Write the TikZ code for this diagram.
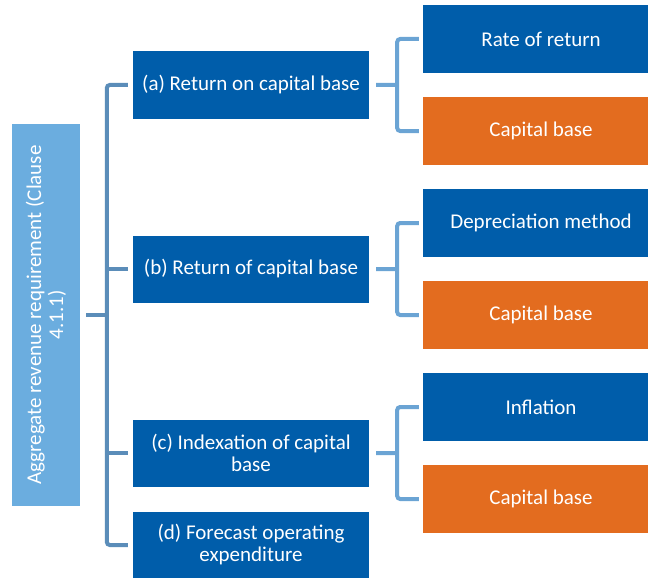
\documentclass[tikz,border=0pt]{standalone}
\usepackage{fontspec}
\setmainfont{Carlito}
\usetikzlibrary{positioning,calc}
\definecolor{arrblue}{HTML}{005DAA}
\definecolor{arrorange}{HTML}{E36C1F}
\definecolor{arrsky}{HTML}{6BADDF}
\definecolor{spinecol}{HTML}{5B8DB9}
\definecolor{twigcol}{HTML}{6BA4D4}

\begin{document}
\begin{tikzpicture}[x=1pt,y=-1pt,on grid,node distance=92pt,
  box/.style={fill=arrblue,text=white,font=\fontsize{21}{22}\selectfont,align=center,inner sep=0pt},
  leaf/.style={box,minimum width=236pt,minimum height=68pt},
  leafo/.style={leaf,fill=arrorange},
  mid/.style={box,minimum width=236pt,minimum height=67pt},
  spine/.style={draw=spinecol,line width=4pt,rounded corners=3pt},
  twig/.style={draw=twigcol,line width=4pt,rounded corners=3pt}]
 \useasboundingbox (0,0) rectangle (648,578);
 \node[leaf] (rr) at (541,39) {Rate of return};
 \node[leafo] (cb1) [below=of rr] {Capital base};
 \node[leaf] (dm) [below=of cb1] {Depreciation method};
 \node[leafo] (cb2) [below=of dm] {Capital base};
 \node[leaf] (infl) [below=of cb2] {Inflation};
 \node[leafo] (cb3) [below=of infl] {Capital base};
 \coordinate (ma) at ($(rr)!.5!(cb1)$);
 \coordinate (mb) at ($(dm)!.5!(cb2)$);
 \coordinate (mc) at ($(infl)!.5!(cb3)$);
 \node[mid] (a) at ([xshift=-290pt]ma) {(a) Return on capital base};
 \node[mid] (b) at ([xshift=-290pt]mb) {(b) Return of capital base};
 \node[mid] (c) at ([xshift=-290pt]mc) {(c) Indexation of capital\\base};
 \node[mid] (d) [below=of c] {(d) Forecast operating\\expenditure};
 \node[box,fill=arrsky,rotate=90,minimum width=382pt,minimum height=68pt] (root) at (46,315)
  {Aggregate revenue requirement (Clause\\4.1.1)};
 \coordinate (spine) at ([xshift=-26pt]a.west);
 \draw[spine] ([xshift=-5pt]a.west) -| (d.west -| spine) -- ([xshift=-5pt]d.west);
 \draw[spine] ([xshift=-5pt]b.west) -- (b.west -| spine)
  ([xshift=-5pt]c.west) -- (c.west -| spine)
  ([xshift=6pt]root.south) -- (root.south -| spine);
 \draw[twig] ([xshift=-4pt]rr.west) -| ([xshift=28pt]a.east) |- ([xshift=-4pt]cb1.west)
  ([xshift=7pt]a.east) -- ([xshift=28pt]a.east);
 \draw[twig] ([xshift=-4pt]dm.west) -| ([xshift=28pt]b.east) |- ([xshift=-4pt]cb2.west)
  ([xshift=7pt]b.east) -- ([xshift=28pt]b.east);
 \draw[twig] ([xshift=-4pt]infl.west) -| ([xshift=28pt]c.east) |- ([xshift=-4pt]cb3.west)
  ([xshift=7pt]c.east) -- ([xshift=28pt]c.east);
\end{tikzpicture}
\end{document}
